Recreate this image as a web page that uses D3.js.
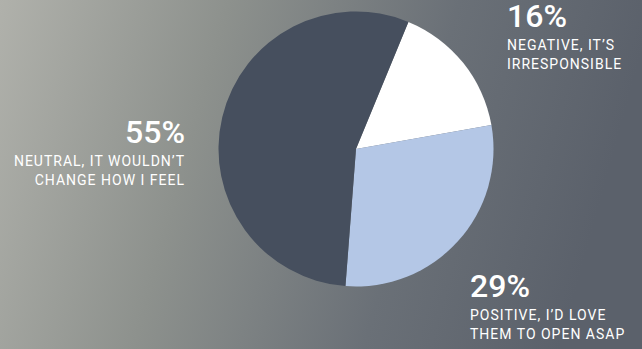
<!DOCTYPE html>
<html><head><meta charset="utf-8">
<script src="https://cdn.jsdelivr.net/npm/d3@7"></script>
<style>html,body{margin:0;padding:0;overflow:hidden;background:#888}</style>
</head><body>
<svg id="chart" width="642" height="349"></svg>
<script>
const categories = ["Negative", "Positive", "Neutral"];
const values = [16, 29, 55];
const percentLabels = ["16%", "29%", "55%"];
const descriptions = [
  ["NEGATIVE, IT\u2019S", "IRRESPONSIBLE"],
  ["POSITIVE, I\u2019D LOVE", "THEM TO OPEN ASAP"],
  ["NEUTRAL, IT WOULDN\u2019T", "CHANGE HOW I FEEL"]
];
const colors = ["#ffffff", "#b4c7e6", "#464f5e"];

const W = 642, H = 349;
const svg = d3.select("#chart");
const defs = svg.append("defs");
const grad = defs.append("linearGradient").attr("id","bg").attr("x1","0").attr("y1","0").attr("x2","1").attr("y2","0.15");
grad.append("stop").attr("offset","0").attr("stop-color","#b0b1ab");
grad.append("stop").attr("offset","0.35").attr("stop-color","#8d918d");
grad.append("stop").attr("offset","0.7").attr("stop-color","#6a7077");
grad.append("stop").attr("offset","1").attr("stop-color","#5b616b");
svg.append("rect").attr("width",W).attr("height",H).attr("fill","url(#bg)");

const cx = 356, cy = 149, r = 137.5;
const start = 22.4 * Math.PI / 180;
const pie = d3.pie().sort(null).startAngle(start).endAngle(start + 2*Math.PI);
const arc = d3.arc().innerRadius(0).outerRadius(r);
const g = svg.append("g").attr("transform", `translate(${cx},${cy})`);
g.selectAll("path").data(pie(values)).join("path")
  .attr("d", arc).attr("fill", (d,i) => colors[i]);

const font = "Roboto, 'Noto Sans', sans-serif";
const labelPos = [
  {x: 507, y: 27, anchor: "start"},
  {x: 470, y: 297, anchor: "start"},
  {x: 185, y: 143, anchor: "end"}
];
categories.forEach((c, i) => {
  const p = labelPos[i];
  const t = svg.append("g");
  t.append("text").attr("x", p.x).attr("y", p.y).attr("text-anchor", p.anchor)
    .attr("fill", "#ffffff").attr("font-family", font).attr("font-size", 32)
    .attr("font-weight", 500)
    .text(percentLabels[i]);
  descriptions[i].forEach((line, j) => {
    t.append("text").attr("x", p.x).attr("y", p.y + 22.5 + j*19.5).attr("text-anchor", p.anchor)
      .attr("fill", "#ffffff").attr("font-family", font).attr("font-size", 14)
      .attr("font-weight", 400).attr("letter-spacing", 1.0)
      .text(line);
  });
});
</script>
</body></html>
